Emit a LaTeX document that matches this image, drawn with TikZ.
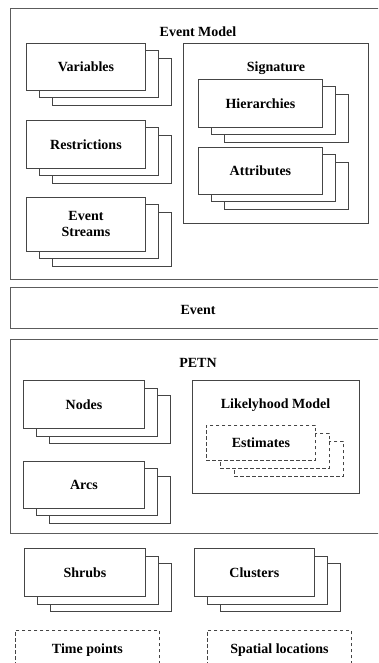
\documentclass[tikz,border=0pt]{standalone}
\usepackage{fontspec}
\setmainfont{Liberation Serif}
\usetikzlibrary{positioning,shadows}
\definecolor{cLine}{HTML}{454545}
\definecolor{cFrame}{HTML}{5C5C5C}
\tikzset{
  card/.style={draw=cLine, line width=0.9pt, fill=white, align=center,
               font=\bfseries\fontsize{14}{16}\selectfont, inner sep=2pt,
               minimum width=121pt, minimum height=48pt},
  stack/.style={general shadow={shadow xshift=26pt, shadow yshift=-15pt,
                  draw=cLine, fill=white, line width=0.9pt},
                general shadow={shadow xshift=13pt, shadow yshift=-7.5pt,
                  draw=cLine, fill=white, line width=0.9pt}},
  dcard/.style={card, dash pattern=on 3.5pt off 2.5pt},
  dstack/.style={general shadow={shadow xshift=28pt, shadow yshift=-16pt,
                  draw=cLine, fill=white, line width=0.9pt, dash pattern=on 3.5pt off 2.5pt},
                 general shadow={shadow xshift=14pt, shadow yshift=-8pt,
                  draw=cLine, fill=white, line width=0.9pt, dash pattern=on 3.5pt off 2.5pt}},
  frame/.style={draw=cFrame, line width=1.3pt, anchor=north west,
                minimum width=376pt, inner sep=0pt},
  inbox/.style={draw=cLine, line width=0.9pt, anchor=north west, inner sep=0pt},
  ttl/.style={font=\bfseries\fontsize{14}{16}\selectfont},
}

\begin{document}
\begin{tikzpicture}[x=1pt, y=-1pt]
  \useasboundingbox (0,0) rectangle (378,663);
  \clip (0,0) rectangle (378,663);
  % event model
  \node[frame, minimum height=271pt] (em) at (10,8) {};
  \node[ttl] (emT) at (198,32) {Event Model};
  \node[card, stack, anchor=north west, minimum width=119pt, minimum height=47pt] (vars) at (26,43) {Variables};
  \node[card, stack, below=29pt of vars, minimum width=119pt] (restr) {Restrictions};
  \node[card, stack, below=28pt of restr, minimum width=119pt, minimum height=54pt] (strm) {Event\\Streams};
  \node[inbox, minimum width=185pt, minimum height=180pt] (sig) at (183,43) {};
  \node[ttl] (sigT) at (276,68) {Signature};
  \node[card, stack, anchor=north west, minimum width=124pt] (hier) at (198,79) {Hierarchies};
  \node[card, stack, below=19pt of hier, minimum width=124pt, minimum height=47pt] (attr) {Attributes};
  % event
  \node[frame, minimum height=41pt] (ev) at (10,287) {};
  \node[ttl] (evT) at (198,310) {Event};
  % petn
  \node[frame, minimum height=194pt] (petn) at (10,339) {};
  \node[ttl] (petnT) at (198,363) {PETN};
  \node[card, stack, anchor=north west] (nodes) at (23,380) {Nodes};
  \node[card, stack, below=32pt of nodes, minimum height=47pt] (arcs) {Arcs};
  \node[inbox, minimum width=167pt, minimum height=113pt] (lm) at (192,380) {};
  \node[ttl] (lmT) at (275.5,405) {Likelyhood Model};
  \node[dcard, dstack, anchor=north west, minimum width=109pt, minimum height=35pt] (est) at (206,425) {Estimates};
  % below
  \node[card, stack, anchor=north west] (shrubs) at (24,548) {Shrubs};
  \node[card, stack, right=48pt of shrubs, minimum width=120pt] (clus) {Clusters};
  \node[dcard, anchor=north west, minimum width=144pt, minimum height=40pt] (tp) at (15,630) {Time points};
  \node[dcard, anchor=north west, minimum width=144pt, minimum height=40pt] (sl) at (207,630) {Spatial locations};
\end{tikzpicture}
\end{document}
